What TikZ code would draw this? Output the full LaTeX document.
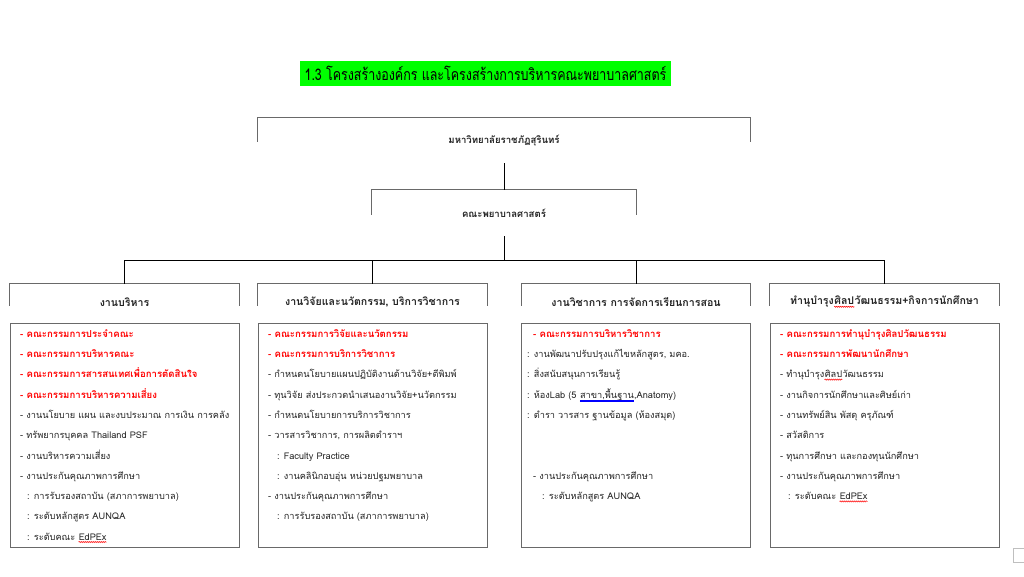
\documentclass[tikz,border=0pt]{standalone}
\usepackage{fontspec}
\setmainfont[Script=Thai]{Loma}
\usetikzlibrary{calc,decorations.pathmorphing}
\definecolor{boxgray}{RGB}{105,105,105}
\definecolor{txt}{RGB}{35,35,35}
\definecolor{ttlgreen}{RGB}{0,255,0}
\definecolor{wordred}{RGB}{255,0,0}
\newcommand\redsq[1]{\tikz[baseline=(w.base)]{\node[inner sep=0pt, minimum width=0pt, minimum height=0pt, anchor=base west](w){#1};
  \draw[red, line width=0.5pt, decorate, decoration={snake, amplitude=0.6pt, segment length=2pt}] ([yshift=-1.8pt]w.base west) -- ([yshift=-1.8pt]w.base east);}}
\newcommand\bluedbl[1]{\tikz[baseline=(w.base)]{\node[inner sep=0pt, minimum width=0pt, minimum height=0pt, anchor=base west](w){#1};
  \draw[blue, line width=0.4pt] ([yshift=-1.6pt]w.base west) -- ([yshift=-1.6pt]w.base east);
  \draw[blue, line width=0.4pt] ([yshift=-2.8pt]w.base west) -- ([yshift=-2.8pt]w.base east);}}
\newcommand\RL[1]{{\fontsize{9.6}{20.3}\selectfont\bfseries\color{wordred}#1}}
\newcommand\firstl{\rule{0pt}{11pt}}
\begin{document}
\begin{tikzpicture}[x=1pt,y=-1pt,
  boxline/.style={draw=boxgray, line width=0.9pt},
  conn/.style={draw=black, line width=0.9pt},
  bodybox/.style={boxline, rectangle, minimum width=229pt, minimum height=224pt, inner sep=0pt},
  lines/.style={anchor=north west, inner sep=0pt, align=left, font=\fontsize{9.2}{20.3}\selectfont, text=txt},
  hdr/.style={inner sep=0pt, minimum width=229pt, minimum height=36pt, font=\bfseries\fontsize{10.6}{12}\selectfont, text=txt},
  topbox/.style={inner sep=0pt, font=\bfseries\fontsize{9.6}{11}\selectfont, text=txt}
]
\useasboundingbox (0,0) rectangle (1024,576);
\fill[white] (0,0) rectangle (1024,576);

% title
\node[fill=ttlgreen, minimum width=371pt, minimum height=25pt, inner sep=0pt] (title) at (485.5,73.5)
  {\scalebox{0.78}[1]{\fontsize{16}{18}\selectfont 1.3 โครงสร้างองค์กร และโครงสร้างการบริหารคณะพยาบาลศาสตร์}};

% university
\node[topbox, minimum width=492pt, minimum height=45pt] (uni) at (504,140.5) {มหาวิทยาลัยราชภัฏสุรินทร์};
\draw[boxline] ([yshift=-24pt]uni.north west) -- (uni.north west) -- (uni.north east) -- ([yshift=-24pt]uni.north east);

% faculty
\node[topbox, minimum width=264pt, minimum height=46pt] (fac) at (504,213) {คณะพยาบาลศาสตร์};
\draw[boxline] ([yshift=-25pt]fac.north west) -- (fac.north west) -- (fac.north east) -- ([yshift=-25pt]fac.north east);

\draw[conn] (uni.south) -- (fac.north);

% headers
\node[hdr] (h1) at (124.5,302) {งานบริหาร};
\node[hdr] (h2) at (372.5,302) {งานวิจัยและนวัตกรรม, บริการวิชาการ};
\node[hdr] (h3) at (636,302) {งานวิชาการ การจัดการเรียนการสอน};
\node[hdr] (h4) at (884.5,302) {ทำนุบำรุง\redsq{ศิลป}วัฒนธรรม+กิจการนักศึกษา};
\foreach \h in {h1,h2,h3,h4}{
  \draw[boxline] ([yshift=-22pt]\h.north west) -- (\h.north west) -- (\h.north east) -- ([yshift=-22pt]\h.north east);
}

% connectors
\coordinate (bus) at (504,260);
\draw[conn] (fac.south) -- (bus);
\foreach \h in {h1,h2,h3,h4}{ \draw[conn] (bus) -| (\h.north); }

% body boxes
\node[bodybox] (b1) at (124.5,435) {};
\node[bodybox] (b2) at (372.5,435) {};
\node[bodybox] (b3) at (636,435) {};
\node[bodybox] (b4) at (884.5,435) {};

\node[lines] (t1) at (20,326) {\firstl\RL{- คณะกรรมการประจำคณะ}\\
\RL{- คณะกรรมการบริหารคณะ}\\
\RL{- คณะกรรมการสารสนเทศเพื่อการตัดสินใจ}\\
\RL{- คณะกรรมการบริหารความเสี่ยง}\\
- งานนโยบาย แผน และงบประมาณ การเงิน การคลัง\\
- ทรัพยากรบุคคล Thailand PSF\\
- งานบริหารความเสี่ยง\\
- งานประกันคุณภาพการศึกษา\\
\hspace*{7pt}: การรับรองสถาบัน (สภาการพยาบาล)\\
\hspace*{7pt}: ระดับหลักสูตร AUNQA\\
\hspace*{7pt}: ระดับคณะ \redsq{EdPEx}};

\node[lines] (t2) at (268,326) {\firstl\RL{- คณะกรรมการวิจัยและนวัตกรรม}\\
\RL{- คณะกรรมการบริการวิชาการ}\\
- กำหนดนโยบายแผนปฏิบัติงานด้านวิจัย+ตีพิมพ์\\
- ทุนวิจัย ส่งประกวดนำเสนองานวิจัย+นวัตกรรม\\
- กำหนดนโยบายการบริการวิชาการ\\
- วารสารวิชาการ, การผลิตตำราฯ\\
\hspace*{9pt}:\hspace*{4pt}Faculty Practice\\
\hspace*{9pt}: งานคลินิกอบอุ่น หน่วยปฐมพยาบาล\\
- งานประกันคุณภาพการศึกษา\\
\hspace*{9pt}: การรับรองสถาบัน (สภาการพยาบาล)};

\node[lines] (t3) at (527,326) {\firstl\hspace*{6pt}\RL{- คณะกรรมการบริหารวิชาการ}\\
: งานพัฒนาปรับปรุงแก้ไขหลักสูตร, มคอ.\\
: สิ่งสนับสนุนการเรียนรู้\\
: ห้องLab (5 \bluedbl{สาขา,พื้นฐาน},Anatomy)\\
: ตำรา วารสาร ฐานข้อมูล (ห้องสมุด)\\
\mbox{}\\
\mbox{}\\
\hspace*{6pt}- งานประกันคุณภาพการศึกษา\\
\hspace*{15pt}: ระดับหลักสูตร AUNQA};

\node[lines] (t4) at (780,326) {\firstl\RL{- คณะกรรมการทำนุบำรุงศิลปวัฒนธรรม}\\
\RL{- คณะกรรมการพัฒนานักศึกษา}\\
- ทำนุบำรุง\redsq{ศิลป}วัฒนธรรม\\
- งานกิจการนักศึกษาและศิษย์เก่า\\
- งานทรัพย์สิน พัสดุ ครุภัณฑ์\\
- สวัสดิการ\\
- ทุนการศึกษา และกองทุนนักศึกษา\\
- งานประกันคุณภาพการศึกษา\\
\hspace*{8pt}: ระดับคณะ \redsq{EdPEx}};

% page corner marker
\draw[draw=black!25, line width=0.8pt] (1013,548) rectangle (1030,562);
\end{tikzpicture}
\end{document}
